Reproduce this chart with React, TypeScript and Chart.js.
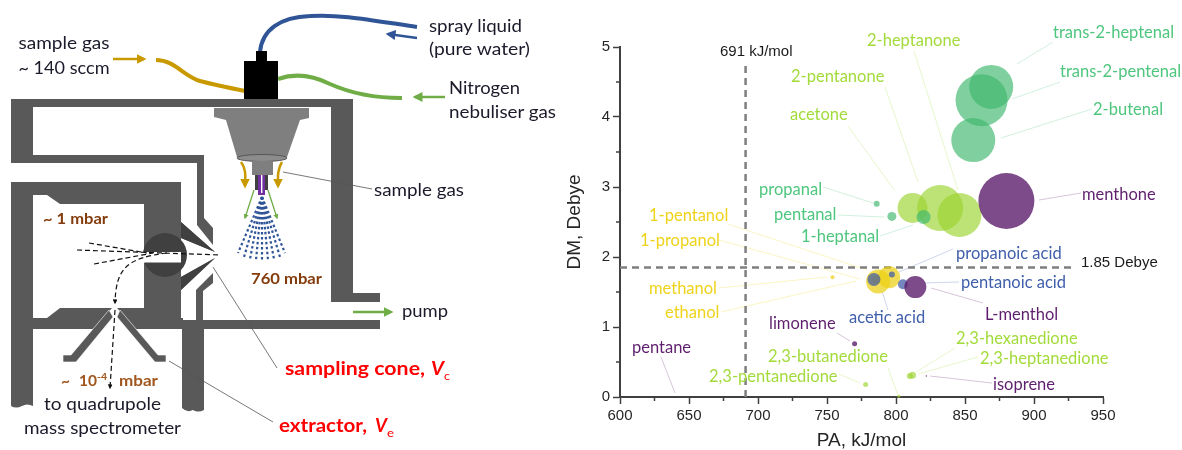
import React, { useEffect, useRef } from "react";
import { Chart, registerables } from "chart.js";

Chart.register(...registerables);

// ---------- chart data: PA (kJ/mol), DM (Debye), relative bubble size ----------
const ketoneNames = ["acetone", "2-pentanone", "2-heptanone", "2,3-butanedione", "2,3-pentanedione", "2,3-hexanedione", "2,3-heptanedione"];
const ketonePA = [812, 832, 846, 802, 778, 812, 810];
const ketoneDM = [2.7, 2.7, 2.6, 0.01, 0.18, 0.31, 0.3];
const ketoneSize = [15, 23, 22, 1.5, 2.5, 3.5, 3];

const aldehydeNames = ["propanal", "pentanal", "1-heptanal", "2-butenal", "trans-2-pentenal", "trans-2-heptenal"];
const aldehydePA = [786, 797, 820, 856, 862, 869];
const aldehydeDM = [2.76, 2.58, 2.57, 3.67, 4.24, 4.43];
const aldehydeSize = [3, 4.5, 7, 22, 26, 22];

const alcoholNames = ["methanol", "ethanol", "1-propanol", "1-pentanol"];
const alcoholPA = [754, 787, 786, 795];
const alcoholDM = [1.71, 1.65, 1.67, 1.71];
const alcoholSize = [2, 12, 4, 11];

const acidNames = ["acetic acid", "propanoic acid", "pentanoic acid"];
const acidPA = [784, 797, 805];
const acidDM = [1.68, 1.75, 1.61];
const acidSize = [6.5, 3, 5];

const otherNames = ["menthone", "L-menthol", "limonene", "isoprene", "pentane"];
const otherPA = [880, 814, 770, 822, 640];
const otherDM = [2.8, 1.57, 0.76, 0.3, 0];
const otherSize = [28, 11, 2.5, 0.8, 0.3];

const xTicks = [600, 650, 700, 750, 800, 850, 900, 950];
const xMinorTicks = [625, 675, 725, 775, 825, 875, 925];
const yTicks = [0, 1, 2, 3, 4, 5];
const yMinorTicks = [0.5, 1.5, 2.5, 3.5, 4.5];
const paThreshold = 691;
const dmThreshold = 1.85;

// ---------- colours ----------
const GREEN = "#4fc67e";
const LIME = "#a3db3c";
const YELLOW = "#eed31a";
const BLUE = "#3f5eab";
const PURPLE = "#5f1f6e";

// ---------- callouts (text, colour, left edge, middle y, leader from/to) ----------
type Callout = [string, string, number, number, number, number, number, number];
const callouts: Callout[] = [
  ["trans-2-heptenal", GREEN, 1053, 33, 1053, 42, 1017, 64],
  ["trans-2-pentenal", GREEN, 1060, 72, 1060, 82, 1012, 99],
  ["2-butenal", GREEN, 1093, 110, 1092, 109, 1001, 138],
  ["2-heptanone", LIME, 867, 41, 914, 51, 958, 190],
  ["2-pentanone", LIME, 791, 77, 885, 87, 918, 182],
  ["acetone", LIME, 790, 115, 848, 126, 895, 191],
  ["propanal", GREEN, 759, 190, 823, 187, 873, 203],
  ["pentanal", GREEN, 774, 215, 838, 215, 884, 217],
  ["1-heptanal", GREEN, 801, 237, 880, 236, 913, 225],
  ["menthone", PURPLE, 1082, 195, 1081, 193, 1039, 200],
  ["1-pentanol", YELLOW, 649, 216, 728, 224, 867, 270],
  ["1-propanol", YELLOW, 640, 241, 719, 240, 860, 279],
  ["methanol", YELLOW, 649, 289, 719, 288, 827, 277],
  ["ethanol", YELLOW, 665, 313, 721, 312, 856, 281],
  ["propanoic acid", BLUE, 956, 254, 953, 249, 899, 272],
  ["pentanoic acid", BLUE, 961, 283, 959, 282, 923, 283],
  ["acetic acid", BLUE, 849, 318, 888, 310, 882, 291],
  ["L-menthol", PURPLE, 985, 315, 983, 303, 931, 288],
  ["limonene", PURPLE, 769, 324, 837, 333, 850, 341],
  ["pentane", PURPLE, 632, 348, 661, 357, 675, 393],
  ["2,3-hexanedione", LIME, 956, 339, 955, 348, 916, 372],
  ["2,3-heptanedione", LIME, 980, 359, 978, 357, 918, 374],
  ["2,3-butanedione", LIME, 768, 357, 888, 368, 898, 395],
  ["2,3-pentanedione", LIME, 709, 377, 839, 374, 860, 383],
  ["isoprene", PURPLE, 993, 385, 992, 383, 930, 376],
];

const pts = (pa: number[], dm: number[], size: number[]) =>
  pa.map((x, i) => ({ x, y: dm[i], r: size[i] }));

const annotationPlugin = {
  id: "annotationLayer",
  beforeDatasetsDraw(chart: any) {
    const c = chart.ctx;
    c.save();
    c.lineWidth = 1;
    c.globalAlpha = 0.26;
    for (const [, col, , , a, b, d, e] of callouts) {
      c.strokeStyle = col;
      c.beginPath();
      c.moveTo(a, b);
      c.lineTo(d, e);
      c.stroke();
    }
    c.restore();
  },
  afterDraw(chart: any) {
    const c = chart.ctx;
    const sx = chart.scales.x;
    const sy = chart.scales.y;
    c.save();
    c.strokeStyle = "#404040";
    c.lineWidth = 1.5;
    c.beginPath();
    for (const v of xMinorTicks) {
      c.moveTo(sx.getPixelForValue(v), sy.bottom);
      c.lineTo(sx.getPixelForValue(v), sy.bottom + 4);
    }
    for (const v of yMinorTicks) {
      c.moveTo(sx.left, sy.getPixelForValue(v));
      c.lineTo(sx.left - 4, sy.getPixelForValue(v));
    }
    c.stroke();
    c.textBaseline = "middle";
    c.textAlign = "left";
    c.font = "16.5px Lato";
    for (const [text, col, x, y] of callouts) {
      c.fillStyle = col;
      c.fillText(text, x, y);
    }
    c.font = "15px 'Liberation Sans'";
    c.fillStyle = "#1a1a1a";
    c.fillText(`${paThreshold} kJ/mol`, 720, 52);
    c.fillText(`${dmThreshold} Debye`, 1081, 263);
    c.restore();
  },
};

const W = "#595959";
const GOLD = "#c99a00";
const BL = "#2f5597";
const GR = "#70ad47";
const BROWN = "#843c0c";
const RED = "#ff0000";
const INK = "#1a1a2a";
const SANS = "Lato, 'Open Sans', sans-serif";

function Txt({ x, y, w, c = INK, s = 18, b = false, i = false, children }: any) {
  return (
    <text x={x} y={y} fill={c} fontSize={s} fontFamily={SANS} fontWeight={b ? 700 : 400}
      fontStyle={i ? "italic" : "normal"} textLength={w} lengthAdjust="spacingAndGlyphs">
      {children}
    </text>
  );
}

const sprayEnds: [number, number][] = [[238, 253], [244, 257], [250, 259], [256, 260], [262, 261], [268, 260], [274, 259], [280, 257], [285, 253]];

function Schematic() {
  return (
    <svg width={600} height={450} style={{ position: "absolute", left: 0, top: 0 }}>
      <defs>
        {[["g", GOLD], ["b", BL], ["n", GR], ["k", "#111"]].map(([id, col]) => (
          <marker key={id} id={"ah" + id} markerWidth="4" markerHeight="4" refX="3" refY="2" orient="auto">
            <path d="M0,0 L4,2 L0,4 Z" fill={col} />
          </marker>
        ))}
      </defs>
      {/* walls */}
      <g fill={W}>
        <path d="M11,99 H353 V293 H380 V302 H331 V107 H33 V155 H204 V218 L213,228 V245 L197,225 V163 H11 Z" />
        <path d="M213,273 V283 L203,291 V320 H196 V290 Z" />
        <path d="M11,182 H181 V222 L215,252 L181,238 V252 H144 V204 H60 L47,195 H33 V406 Q27,403 22,406 Q16,409 11,406 Z" />
        <path d="M144,263 H181 V277 L215,258 L181,290 V318 H144 Z" />
        <rect x={33} y={318} width={150} height={11} />
        <path d="M47,318 L60,308 H144 V318 Z" />
        <rect x={181} y={320} width={199} height={9} />
        <path d="M182,329 H204 V410 Q198,413 193,410 Q187,413 182,408 Z" />
      </g>
      <circle cx={165} cy={255} r={22} fill="#404040" />
      <rect x={140} y={252} width={41} height={10.5} fill="#fff" />
      <path d="M181,222 L215,252 L181,238 Z M181,277 L215,258 L181,290 Z" fill="#404040" />
      {/* extractor */}
      <path d="M114.5,305 L172,372 H58 Z" fill="#fff" />
      <g fill={W} stroke="#fff" strokeWidth={0.6}>
        <path d="M109,310 L71,355 H63 V362 H76 L113,317 Z" />
        <path d="M120,310 L158,355 H166 V362 H155 L117,317 Z" />
      </g>
      {/* nebuliser */}
      <path d="M156,60 C175,60 183,76 200,81 C215,85 230,88 245,91" fill="none" stroke={GOLD} strokeWidth={4} />
      <path d="M260,52 C262,30 280,17 310,16 C340,14 370,20 417,27" fill="none" stroke={BL} strokeWidth={4} />
      <path d="M278,79 C295,73 312,75 330,84 C350,93 375,98 402,98" fill="none" stroke={GR} strokeWidth={4} />
      <rect x={244} y={61} width={34} height={38} fill="#000" />
      <rect x={256} y={51} width={11} height={10} fill="#000" />
      <path d="M214,108 H309 V118 L300,120 L287,157 H237 L226,120 L214,117 Z" fill="#7f7f7f" />
      <ellipse cx={262} cy={158} rx={25} ry={3.5} fill="#8c8c8c" stroke="#555" />
      <rect x={252} y={161} width={21} height={14} fill="#7f7f7f" />
      <rect x={255} y={175} width={13} height={15} fill="#404040" />
      <rect x={258} y={175} width={7} height={20} fill="#7030a0" />
      <rect x={261} y={175} width={1.4} height={18} fill="#fff" />
      <path d="M241,162 C247,170 245,178 245,186" fill="none" stroke={GOLD} strokeWidth={2.5} markerEnd="url(#ahg)" />
      <path d="M282,162 C277,170 278,178 278,186" fill="none" stroke={GOLD} strokeWidth={2.5} markerEnd="url(#ahg)" />
      <path d="M254,190 L245,218" stroke={GR} strokeWidth={1.3} markerEnd="url(#ahn)" />
      <path d="M268,190 L277,218" stroke={GR} strokeWidth={1.3} markerEnd="url(#ahn)" />
      {sprayEnds.map(([x, y], i) => (
        <line key={i} x1={262} y1={197} x2={x} y2={y} stroke={BL} strokeWidth={2.2} strokeDasharray="2.5 2.5" />
      ))}
      {/* arrows */}
      <path d="M113,59 H144" stroke={GOLD} strokeWidth={2.5} markerEnd="url(#ahg)" />
      <path d="M417,38 L388,34" stroke={BL} strokeWidth={2.5} markerEnd="url(#ahb)" />
      <path d="M445,97 H415" stroke={GR} strokeWidth={2.5} markerEnd="url(#ahn)" />
      <path d="M353,312 L391,312" stroke={GR} strokeWidth={2.5} markerEnd="url(#ahn)" />
      {/* ion paths */}
      <g fill="none" stroke="#111" strokeWidth={1.2} strokeDasharray="5 3">
        <path d="M77,250 L220,255" />
        <path d="M89,243 L147,253" />
        <path d="M94,264 L153,253" />
        <path d="M167,253 C125,258 116,270 115,303" markerEnd="url(#ahk)" />
        <path d="M115,310 L110,388" markerEnd="url(#ahk)" />
      </g>
      {/* leaders */}
      <g stroke="#555" strokeWidth={0.8}>
        <line x1={283} y1={172} x2={372} y2={189} />
        <line x1={213} y1={267} x2={277} y2={368} />
        <line x1={169} y1={361} x2={273} y2={422} />
      </g>
      {/* text */}
      <Txt x={18.5} y={49} w={91}>sample gas</Txt>
      <Txt x={18.5} y={74} w={91}>~ 140 sccm</Txt>
      <Txt x={429} y={32} w={93}>spray liquid</Txt>
      <Txt x={429} y={55} w={101}>(pure water)</Txt>
      <Txt x={449} y={94} w={71}>Nitrogen</Txt>
      <Txt x={449} y={118} w={107}>nebuliser gas</Txt>
      <Txt x={374} y={196} w={90}>sample gas</Txt>
      <Txt x={402} y={317} w={46}>pump</Txt>
      <Txt x={44} y={410} w={117}>to quadrupole</Txt>
      <Txt x={24} y={434} w={157}>mass spectrometer</Txt>
      <Txt x={43} y={224} w={65} c={BROWN} s={15} b>~ 1 mbar</Txt>
      <Txt x={251} y={284} w={71} c={BROWN} s={16} b>760 mbar</Txt>
      <Txt x={61} y={386} w={9} c="#a0561c" s={15} b>~</Txt>
      <Txt x={79} y={386} w={18} c="#a0561c" s={15} b>10</Txt>
      <Txt x={97} y={380} w={10} c="#a0561c" s={10} b>-4</Txt>
      <Txt x={119} y={386} w={39} c="#a0561c" s={15} b>mbar</Txt>
      <Txt x={285} y={375} w={140} c={RED} s={19} b>sampling cone,</Txt>
      <Txt x={431} y={375} w={13} c={RED} s={19} b i>V</Txt>
      <Txt x={444} y={380} w={6} c={RED} s={12}>c</Txt>
      <Txt x={279} y={432} w={88} c={RED} s={19} b>extractor,</Txt>
      <Txt x={375} y={432} w={12} c={RED} s={19} b i>V</Txt>
      <Txt x={387} y={437} w={7} c={RED} s={12}>e</Txt>
    </svg>
  );
}

export default function App() {
  const ref = useRef<HTMLCanvasElement | null>(null);
  useEffect(() => {
    const chart = new Chart(ref.current as HTMLCanvasElement, {
      type: "bubble",
      data: {
        datasets: [
          { type: "line", label: "PA threshold", data: [{ x: paThreshold, y: 0 }, { x: paThreshold, y: 4.8 }], borderColor: "#7f7f7f", borderWidth: 2.5, borderDash: [7, 5], pointRadius: 0, order: 10 },
          { type: "line", label: "DM threshold", data: [{ x: 600, y: dmThreshold }, { x: 930, y: dmThreshold }], borderColor: "#7f7f7f", borderWidth: 2.5, borderDash: [7, 5], pointRadius: 0, order: 10 },
          { label: "ketones", data: pts(ketonePA, ketoneDM, ketoneSize), backgroundColor: "rgba(157,212,52,0.68)", borderWidth: 0, order: 5, clip: false },
          { label: "aldehydes", data: pts(aldehydePA, aldehydeDM, aldehydeSize), backgroundColor: "rgba(62,184,110,0.66)", borderWidth: 0, order: 4, clip: false },
          { label: "alcohols", data: pts(alcoholPA, alcoholDM, alcoholSize), backgroundColor: "rgba(236,208,20,0.72)", borderWidth: 0, order: 3, clip: false },
          { label: "acids", data: pts(acidPA, acidDM, acidSize), backgroundColor: "rgba(62,90,165,0.72)", borderWidth: 0, order: 2, clip: false },
          { label: "terpenes and others", data: pts(otherPA, otherDM, otherSize), backgroundColor: "rgba(92,30,108,0.8)", borderWidth: 0, order: 1, clip: false },
        ],
      } as any,
      options: {
        responsive: false,
        animation: false,
        layout: { padding: { left: 565, right: 79, top: 47, bottom: 0 } },
        plugins: { legend: { display: false }, tooltip: { enabled: false } },
        scales: {
          x: {
            type: "linear", min: 600, max: 950,
            afterFit: (s: any) => { s.height = 53; },
            afterBuildTicks: (s: any) => { s.ticks = xTicks.map((value) => ({ value })); },
            grid: { drawOnChartArea: false, tickLength: 7, tickColor: "#404040", tickWidth: 1.5 },
            border: { color: "#404040", width: 2 },
            ticks: { color: "#262626", font: { family: "'Liberation Sans'", size: 15 }, padding: 3, maxRotation: 0, autoSkip: false },
            title: { display: true, text: "PA, kJ/mol", color: "#262626", font: { family: "'Liberation Sans'", size: 19, lineHeight: 1 }, padding: { top: 6, bottom: 0 } },
          },
          y: {
            type: "linear", min: 0, max: 5,
            afterFit: (s: any) => { s.width = 55; },
            afterBuildTicks: (s: any) => { s.ticks = yTicks.map((value) => ({ value })); },
            grid: { drawOnChartArea: false, tickLength: 7, tickColor: "#404040", tickWidth: 1.5 },
            border: { color: "#404040", width: 2 },
            ticks: { color: "#262626", font: { family: "'Liberation Sans'", size: 15 }, padding: 3, autoSkip: false },
            title: { display: true, text: "DM, Debye", color: "#262626", font: { family: "'Liberation Sans'", size: 19, lineHeight: 1 }, padding: { top: 0, bottom: 4 } },
          },
        },
      } as any,
      plugins: [annotationPlugin],
    });
    return () => chart.destroy();
  }, []);
  return (
    <div style={{ position: "absolute", left: 0, top: 0, width: 1182, height: 450, overflow: "hidden", background: "#fff" }}>
      <canvas ref={ref} width={1182} height={450} style={{ position: "absolute", left: 0, top: 0 }} />
      <Schematic />
    </div>
  );
}

// names kept with the data for reference
export const compoundNames = [ketoneNames, aldehydeNames, alcoholNames, acidNames, otherNames];
